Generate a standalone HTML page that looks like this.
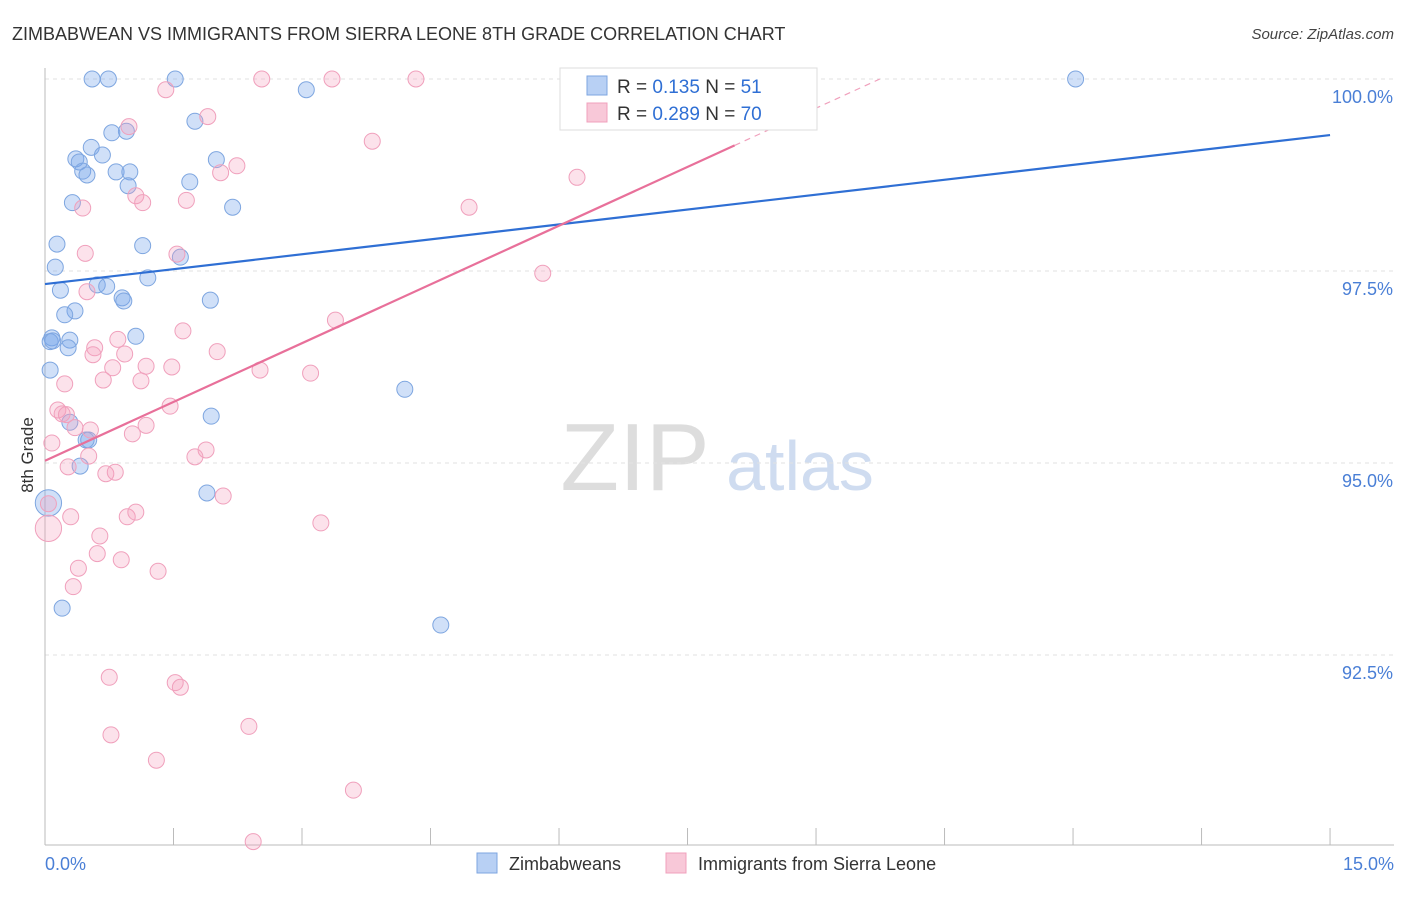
<!DOCTYPE html>
<html><head><meta charset="utf-8"><style>
body{margin:0;background:#fff;font-family:"Liberation Sans",sans-serif;}
svg text{font-family:"Liberation Sans",sans-serif;}
</style></head><body>
<svg id="chart" width="1406" height="892" viewBox="0 0 1406 892" xmlns="http://www.w3.org/2000/svg">
<text x="12" y="40" font-size="18" fill="#333">ZIMBABWEAN VS IMMIGRANTS FROM SIERRA LEONE 8TH GRADE CORRELATION CHART</text>
<text x="1394" y="39" font-size="15" fill="#444" text-anchor="end" font-style="italic">Source: ZipAtlas.com</text>
<text transform="translate(33,455) rotate(-90)" font-size="17" fill="#333" text-anchor="middle">8th Grade</text>
<g><text x="635" y="490" font-size="96" fill="#ddd" text-anchor="middle" font-family="Liberation Serif,serif">ZIP</text><text x="800" y="490" font-size="70" fill="#cfdcf0" text-anchor="middle">atlas</text></g>
<g id="grid"></g><g id="axes"></g><g id="pts"></g><g id="lines"></g>
<g>
<rect x="560" y="68" width="257" height="62" fill="#fff" stroke="#ddd"/>
<rect x="587" y="76" width="20" height="19" fill="#b8d0f4" stroke="#7ea6e0"/>
<text x="617" y="93" font-size="19" fill="#333">R = <tspan fill="#2f6fd4">0.135</tspan>   N = <tspan fill="#2f6fd4"> 51</tspan></text>
<rect x="587" y="103" width="20" height="19" fill="#f8c8d8" stroke="#f0a0bc"/>
<text x="617" y="120" font-size="19" fill="#333">R = <tspan fill="#2f6fd4">0.289</tspan>   N = <tspan fill="#2f6fd4">70</tspan></text>
</g>
<g>
<rect x="477" y="853" width="20" height="20" fill="#b8d0f4" stroke="#7ea6e0"/>
<text x="509" y="870" font-size="18" fill="#333">Zimbabweans</text>
<rect x="666" y="853" width="20" height="20" fill="#f8c8d8" stroke="#f0a0bc"/>
<text x="698" y="870" font-size="18" fill="#333">Immigrants from Sierra Leone</text>
</g>
</svg>
<script>
const xTickVals=[0,1.5,3,4.5,6,7.5,9,10.5,12,13.5,15];
const yTickVals=[100,97.5,95,92.5];
const yTickLabels=["100.0%","97.5%","95.0%","92.5%"];
const blueX=[0.55,0.74,1.52,3.05,12.03,1.75,0.95,0.78,0.54,0.36,0.40,0.67,2.00,0.44,0.49,0.83,0.99,0.97,1.69,2.19,0.32,0.14,1.14,0.12,1.58,1.20,0.18,0.61,0.72,0.90,0.92,1.93,0.35,0.23,1.06,0.08,0.29,0.27,0.06,0.06,4.20,1.94,0.29,0.48,0.51,0.41,1.89,0.04,0.20,4.62,0.09];
const blueY=[100,100,100,99.86,100,99.45,99.32,99.30,99.11,98.96,98.92,99.01,98.95,98.80,98.75,98.79,98.79,98.61,98.66,98.33,98.39,97.85,97.83,97.55,97.68,97.41,97.25,97.32,97.30,97.15,97.11,97.12,96.98,96.93,96.65,96.63,96.60,96.50,96.58,96.21,95.96,95.61,95.53,95.30,95.30,94.96,94.61,94.48,93.11,92.89,96.59];
const blueW=[1,1,1,1,1,1,1,1,1,1,1,1,1,1,1,1,1,1,1,1,1,1,1,1,1,1,1,1,1,1,1,1,1,1,1,1,1,1,1,1,1,1,1,1,1,1,1,3,1,1,1];
const pinkX=[1.41,2.53,3.35,4.33,1.90,0.98,3.82,2.24,2.05,6.21,1.06,1.14,1.65,0.44,4.95,0.47,1.54,5.81,0.49,3.39,1.61,0.85,0.58,0.56,0.93,2.01,0.79,1.18,1.48,2.51,3.10,0.23,0.68,1.12,1.46,0.15,0.20,0.25,0.35,1.18,1.02,0.08,1.88,1.75,0.51,0.27,0.71,0.82,2.08,0.04,0.30,0.96,1.06,3.22,0.64,0.61,0.89,0.39,1.32,0.33,0.75,1.52,1.58,2.38,0.77,1.30,3.60,2.43,0.04,0.53];
const pinkY=[99.86,100,100,100,99.51,99.38,99.19,98.87,98.78,98.72,98.48,98.39,98.42,98.32,98.33,97.73,97.72,97.47,97.23,96.86,96.72,96.61,96.50,96.41,96.42,96.45,96.24,96.26,96.25,96.21,96.17,96.03,96.08,96.07,95.74,95.69,95.64,95.63,95.46,95.49,95.38,95.26,95.17,95.08,95.09,94.95,94.86,94.88,94.57,94.47,94.30,94.30,94.36,94.22,94.05,93.82,93.74,93.63,93.59,93.39,92.21,92.14,92.08,91.57,91.46,91.13,90.74,90.07,94.15,95.43];
const pinkW=pinkX.map((_,i)=>i===68?3:1);
const blueTrend=[97.33,99.27];
const pinkTrend=[95.03,0.51];
const X=v=>45+v*85.67, Y=v=>79+(100-v)*76.8;
const NS="http://www.w3.org/2000/svg";
function mk(t,a,p){const e=document.createElementNS(NS,t);for(const k in a)e.setAttribute(k,a[k]);p.appendChild(e);return e;}
const grid=document.getElementById('grid'),axes=document.getElementById('axes');
yTickVals.forEach((v,i)=>{
 const l=mk('line',{x1:45,x2:1394,y1:Y(v),y2:Y(v),stroke:'#e2e2e2','stroke-dasharray':'4,4'},grid);
 
 
 const t=mk('text',{x:1393,y:Y(v)+24,'font-size':18,fill:'#4a7fd6','text-anchor':'end'},axes);
 t.textContent=yTickLabels[i];
 
 
});
const ax=mk('line',{x1:45,x2:1394,y1:845,y2:845,stroke:'#bbb'},axes);


const ay=mk('line',{x1:45,x2:45,y1:68,y2:845,stroke:'#bbb'},axes);


xTickVals.forEach(v=>{
 const t=mk('line',{x1:X(v),x2:X(v),y1:828,y2:845,stroke:'#bbb'},axes);
 
 
});
const xl0=mk('text',{x:45,y:870,'font-size':18,fill:'#4a7fd6'},axes);xl0.textContent="0.0%";


const xl1=mk('text',{x:1394,y:870,'font-size':18,fill:'#4a7fd6','text-anchor':'end'},axes);xl1.textContent="15.0%";


const pts=document.getElementById('pts');
function series(xs,ys,ws,fill,stroke,name){xs.forEach((x,i)=>{
 const c=mk('circle',{cx:X(x),cy:Y(ys[i]),r:8*Math.sqrt(ws[i])*(ws[i]>1?0.95:1),fill:fill,stroke:stroke,'stroke-width':1},pts);
 
 
});}
series(blueX,blueY,blueW,'rgba(120,165,235,0.35)','#7ea6e0','zimbabwean-point');
series(pinkX,pinkY,pinkW,'rgba(245,160,190,0.3)','#f0a0bc','sierra-leone-point');
const lines=document.getElementById('lines');
const bl=mk('line',{x1:X(0),y1:Y(blueTrend[0]),x2:X(15),y2:Y(blueTrend[1]),stroke:'#2f6fd4','stroke-width':2.2},lines);


const pEnd=8.05,pMax=(100-pinkTrend[0])/pinkTrend[1];
const pl=mk('line',{x1:X(0),y1:Y(pinkTrend[0]),x2:X(pEnd),y2:Y(pinkTrend[0]+pinkTrend[1]*pEnd),stroke:'#e8709a','stroke-width':2.2},lines);


const pd=mk('line',{x1:X(pEnd),y1:Y(pinkTrend[0]+pinkTrend[1]*pEnd),x2:X(pMax),y2:Y(100),stroke:'#f0a0bc','stroke-width':1.2,'stroke-dasharray':'6,5'},lines);


</script>
</body></html>
